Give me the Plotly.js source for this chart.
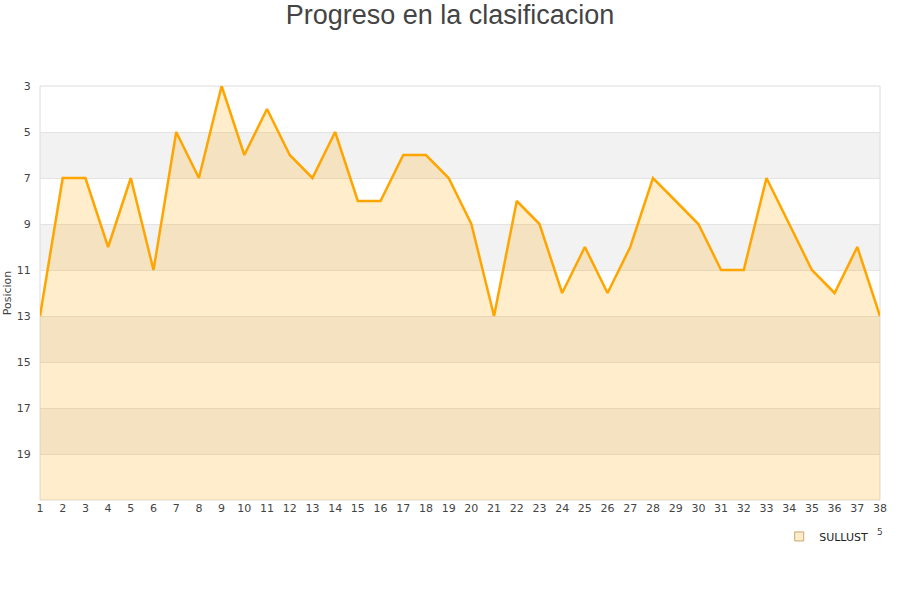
<!DOCTYPE html>
<html>
<head>
<meta charset="utf-8">
<script src="https://cdn.plot.ly/plotly-3.0.1.min.js"></script>
<style>
  html, body { margin: 0; padding: 0; background: #fff; }
  #chart { width: 900px; height: 600px; }
</style>
</head>
<body>
<div id="chart"></div>
<script>
const jornadas = [1,2,3,4,5,6,7,8,9,10,11,12,13,14,15,16,17,18,19,20,21,22,23,24,25,26,27,28,29,30,31,32,33,34,35,36,37,38];
const posiciones = [13,7,7,10,7,11,5,7,3,6,4,6,7,5,8,8,6,6,7,9,13,8,9,12,10,12,10,7,8,9,11,11,7,9,11,12,10,13];
const fondo = jornadas.map(() => 21);
const yTicks = [3,5,7,9,11,13,15,17,19];
const bandas = [[5,7],[9,11],[13,15],[17,19]];
const equipo = 'SULLUST';

const ORANGE = '#ffa500';

const base = {
  x: jornadas, y: fondo,
  type: 'scatter', mode: 'lines',
  line: { width: 0, color: 'rgba(0,0,0,0)' },
  hoverinfo: 'skip', showlegend: false
};

const linea = {
  x: jornadas, y: posiciones,
  type: 'scatter', mode: 'lines',
  name: equipo,
  fill: 'tonexty',
  fillcolor: 'rgba(255,165,0,0.2)',
  line: { color: ORANGE, width: 2.5 },
  showlegend: false
};

const leyenda = {
  x: [null], y: [null],
  type: 'scatter', mode: 'markers',
  name: equipo,
  marker: { symbol: 'square', size: 9, color: '#feedcc', line: { color: '#c9a46a', width: 1 } }
};

const shapes = bandas.map(b => ({
  type: 'rect', xref: 'paper', yref: 'y', layer: 'below',
  x0: 0, x1: 1, y0: b[0], y1: b[1],
  line: { width: 0 }, fillcolor: '#f2f2f2'
}));
shapes.push({
  type: 'rect', xref: 'paper', yref: 'paper', layer: 'below',
  x0: 0, x1: 1, y0: 0, y1: 1,
  line: { color: '#dcdcdc', width: 1 }, fillcolor: 'rgba(0,0,0,0)'
});

const layout = {
  width: 900, height: 600,
  margin: { l: 40, r: 20, t: 86, b: 100 },
  paper_bgcolor: '#fff',
  plot_bgcolor: '#fff',
  font: { family: 'DejaVu Sans, sans-serif', size: 11, color: '#444' },
  title: {
    text: 'Progreso en la clasificacion',
    font: { family: 'Liberation Sans, Arial, sans-serif', size: 27, color: '#444' },
    x: 0.5, xanchor: 'center', y: 0.975, yanchor: 'middle'
  },
  xaxis: {
    range: [1, 38],
    tickmode: 'array', tickvals: jornadas,
    showgrid: false, zeroline: false, showline: false,
    ticks: '', tickfont: { size: 11, color: '#444' },
    fixedrange: true
  },
  yaxis: {
    range: [21, 3],
    tickmode: 'array', tickvals: yTicks,
    showgrid: true, gridcolor: '#e3e3e3', gridwidth: 1,
    zeroline: false, showline: false,
    ticks: 'outside', ticklen: 6, tickcolor: 'rgba(0,0,0,0)',
    tickfont: { size: 11, color: '#444' },
    title: { text: 'Posicion', font: { size: 11, color: '#444' }, standoff: 2 },
    fixedrange: true
  },
  showlegend: true,
  legend: {
    x: 0.88, xanchor: 'left', y: -0.088, yanchor: 'middle',
    font: { size: 11, color: '#222' }, bgcolor: 'rgba(0,0,0,0)'
  },
  annotations: [{
    xref: 'paper', yref: 'paper', x: 0.9935, xanchor: 'left', y: -0.077, yanchor: 'middle',
    text: '5', showarrow: false, font: { size: 9, color: '#444' }
  }],
  shapes: shapes
};

Plotly.newPlot('chart', [base, linea, leyenda], layout, { displayModeBar: false, staticPlot: true });
</script>
</body>
</html>
